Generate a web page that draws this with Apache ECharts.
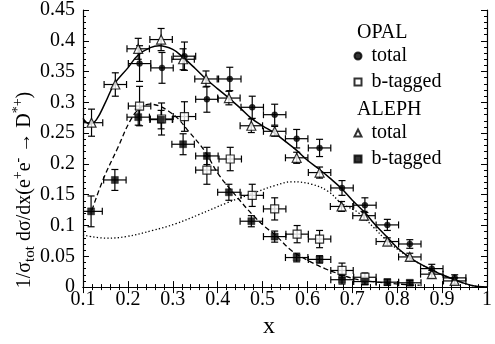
<!DOCTYPE html>
<html><head><meta charset="utf-8">
<script src="https://cdn.jsdelivr.net/npm/echarts@6/dist/echarts.min.js"></script>
<style>html,body{margin:0;padding:0;background:#fff}#c{width:495px;height:344px}</style>
</head><body><div id="c"></div>
<script>
// Tick labels
const xTickLabels = ['0.1','0.2','0.3','0.4','0.5','0.6','0.7','0.8','0.9','1'];
const yTickLabels = ['0','0.05','0.1','0.15','0.2','0.25','0.3','0.35','0.4','0.45'];
// Horizontal (bin) half-width of every point
const XERR = 0.025;

// OPAL total (filled circles)
const opalTotX = [0.226,0.276,0.326,0.376,0.427,0.477,0.527,0.576,0.627,0.677,0.728,0.778,0.828,0.877,0.928];
const opalTotY = [0.363,0.356,0.375,0.305,0.338,0.292,0.280,0.241,0.226,0.161,0.133,0.101,0.070,0.030,0.015];
const opalTotE = [0.029,0.025,0.023,0.021,0.019,0.018,0.017,0.015,0.014,0.012,0.012,0.009,0.007,0.007,0.005];

// OPAL b-tagged (open squares)
const opalBX = [0.226,0.275,0.326,0.376,0.428,0.477,0.527,0.577,0.627,0.677,0.728];
const opalBY = [0.294,0.273,0.277,0.190,0.208,0.149,0.127,0.086,0.078,0.027,0.016];
const opalBE = [0.032,0.026,0.024,0.023,0.019,0.018,0.018,0.014,0.014,0.012,0.007];

// ALEPH total (open triangles)
const alephTotX = [0.119,0.172,0.223,0.274,0.323,0.374,0.425,0.475,0.527,0.576,0.627,0.676,0.726,0.778,0.828,0.877,0.928];
const alephTotY = [0.267,0.329,0.387,0.402,0.370,0.338,0.307,0.262,0.253,0.210,0.186,0.131,0.116,0.074,0.049,0.021,0.010];
const alephTotE = [0.022,0.019,0.017,0.018,0.017,0.013,0.011,0.011,0.008,0.009,0.009,0.008,0.007,0.006,0.006,0.006,0.005];

// ALEPH b-tagged (filled squares)
const alephBX = [0.118,0.171,0.223,0.274,0.323,0.376,0.425,0.475,0.527,0.576,0.627,0.677,0.728,0.778,0.828];
const alephBY = [0.123,0.174,0.276,0.272,0.232,0.213,0.154,0.107,0.082,0.048,0.045,0.012,0.009,0.008,0.007];
const alephBE = [0.025,0.017,0.013,0.015,0.017,0.014,0.013,0.009,0.009,0.007,0.006,0.007,0.005,0.005,0.004];

// Curves
const solidX = [0.1,0.115,0.13,0.15,0.17,0.2,0.223,0.25,0.27,0.3,0.323,0.35,0.374,0.4,0.425,0.45,0.475,0.5,0.527,0.55,0.576,0.6,0.627,0.65,0.676,0.7,0.728,0.75,0.779,0.8,0.828,0.85,0.877,0.9,0.928,0.95,0.964,0.98,1.0];
const solidY = [0.274,0.265,0.272,0.300,0.330,0.356,0.377,0.389,0.392,0.386,0.373,0.355,0.338,0.322,0.307,0.291,0.274,0.262,0.250,0.237,0.222,0.206,0.191,0.177,0.160,0.141,0.121,0.102,0.080,0.064,0.048,0.038,0.028,0.020,0.012,0.006,0.003,0.001,0.0];

const dashX = [0.12,0.145,0.178,0.205,0.226,0.248,0.27,0.29,0.311,0.333,0.37,0.403,0.44,0.477,0.506,0.528,0.565,0.602,0.639,0.676,0.713,0.75,0.787,0.82,0.85];
const dashY = [0.125,0.175,0.227,0.270,0.290,0.297,0.294,0.286,0.274,0.255,0.222,0.182,0.149,0.118,0.0975,0.085,0.059,0.043,0.030,0.020,0.012,0.0085,0.006,0.004,0.003];

const dotX = [0.1,0.152,0.196,0.255,0.307,0.359,0.418,0.477,0.528,0.565,0.61,0.647,0.676,0.713,0.75,0.779,0.816,0.85,0.877,0.9,0.928,0.95,0.964,0.98,1.0];
const dotY = [0.0846,0.0795,0.082,0.092,0.103,0.118,0.136,0.152,0.165,0.171,0.167,0.155,0.136,0.121,0.095,0.074,0.0536,0.038,0.028,0.020,0.012,0.006,0.003,0.001,0.0];

const FONT = '"Liberation Serif", "Times New Roman", Times, serif';
const zip = (a, b) => a.map((v, i) => [v, b[i]]);
const labelFor = (arr) => (v) => {
  let best = arr[0], d = Infinity;
  arr.forEach(s => { const dd = Math.abs(parseFloat(s) - v); if (dd < d) { d = dd; best = s; } });
  return best;
};

function errSeries(xs, ys, es) {
  return {
    type: 'custom', z: 2, silent: true, clip: true,
    data: xs.map((x, i) => [x, ys[i], es[i]]),
    encode: { x: 0, y: 1 },
    renderItem: (params, api) => {
      const x = api.value(0), y = api.value(1), e = api.value(2);
      const t = api.coord([x, y + e]), b = api.coord([x, y - e]);
      const l = api.coord([x - XERR, y]), r = api.coord([x + XERR, y]);
      const c = 3.5;
      const st = { stroke: '#000', lineWidth: 1.2, fill: null };
      const ln = (x1, y1, x2, y2) => ({ type: 'line', shape: { x1, y1, x2, y2 }, style: st });
      return { type: 'group', children: [
        ln(t[0], t[1], b[0], b[1]),
        ln(t[0] - c, t[1], t[0] + c, t[1]),
        ln(b[0] - c, b[1], b[0] + c, b[1]),
        ln(l[0], l[1], r[0], r[1]),
        ln(l[0], l[1] - c, l[0], l[1] + c),
        ln(r[0], r[1] - c, r[0], r[1] + c)
      ]};
    }
  };
}

function markSeries(name, xs, ys, symbol, size, filled) {
  return {
    type: 'scatter', name, z: 4, symbol, symbolSize: size,
    data: zip(xs, ys),
    itemStyle: filled ? { color: '#000', borderColor: '#000', borderWidth: 0.5 }
                      : { color: '#fff', borderColor: '#000', borderWidth: 1.2 }
  };
}

function lineSeries(xs, ys, type, width) {
  return {
    type: 'line', z: 1, silent: true, symbol: 'none', smooth: 0.4,
    data: zip(xs, ys),
    lineStyle: { color: '#000', width, type }
  };
}

const axisCommon = {
  axisLine: { show: true, lineStyle: { color: '#000', width: 1.2 } },
  axisTick: { show: true, inside: true, length: 6, lineStyle: { color: '#000', width: 1 } },
  minorTick: { show: true, splitNumber: 5, length: 3, lineStyle: { color: '#000', width: 1 } },
  splitLine: { show: false }
};

const chart = echarts.init(document.getElementById('c'), null, { renderer: 'canvas' });
chart.setOption({
  backgroundColor: '#fff',
  animation: false,
  textStyle: { fontFamily: FONT },
  grid: { left: 83, right: 5, top: 10, bottom: 44, containLabel: false },
  xAxis: [
    Object.assign({
      type: 'value', min: 0.1, max: 1, interval: 0.1, position: 'bottom',
      name: 'x', nameLocation: 'middle', nameGap: 21,
      nameTextStyle: { fontFamily: FONT, fontSize: 24, color: '#000', padding: [0, 32, 0, 0] },
      axisLabel: { fontFamily: FONT, fontSize: 20, color: '#000', margin: 3, formatter: labelFor(xTickLabels) }
    }, axisCommon),
    Object.assign({
      type: 'value', min: 0.1, max: 1, interval: 0.1, position: 'top',
      axisLabel: { show: false }
    }, axisCommon)
  ],
  yAxis: [
    Object.assign({
      type: 'value', min: 0, max: 0.45, interval: 0.05, position: 'left',
      axisLabel: { fontFamily: FONT, fontSize: 20, color: '#000', margin: 8, formatter: labelFor(yTickLabels) }
    }, axisCommon),
    Object.assign({
      type: 'value', min: 0, max: 0.45, interval: 0.05, position: 'right',
      axisLabel: { show: false }
    }, axisCommon)
  ],
  legend: [
    {
      data: ['OPAL total', 'OPAL b-tagged'], orient: 'vertical', left: 353.5, top: 46,
      padding: 0, itemGap: 6, itemWidth: 7, itemHeight: 7, selectedMode: false,
      formatter: n => n.endsWith('total') ? 'total' : 'b-tagged',
      textStyle: { fontFamily: FONT, fontSize: 20, color: '#000', padding: [0, 0, 0, 5] }
    },
    {
      data: ['ALEPH total', 'ALEPH b-tagged'], orient: 'vertical', left: 353.5, top: 123,
      padding: 0, itemGap: 6, itemWidth: 7, itemHeight: 7, selectedMode: false,
      formatter: n => n.endsWith('total') ? 'total' : 'b-tagged',
      textStyle: { fontFamily: FONT, fontSize: 20, color: '#000', padding: [0, 0, 0, 5] }
    }
  ],
  graphic: [
    { type: 'text', left: 357, top: 23, style: { text: 'OPAL', fontFamily: FONT, fontSize: 20, fill: '#000' } },
    { type: 'text', left: 357, top: 100, style: { text: 'ALEPH', fontFamily: FONT, fontSize: 20, fill: '#000' } },
    {
      type: 'text', x: 25, y: 190, rotation: Math.PI / 2,
      style: {
        text: '{m|1/σ}{sub|tot}{m| dσ/dx(e}{sup|+}{m|e}{sup|-}{m| → D}{sup|*+}{m|)}',
        align: 'center', verticalAlign: 'middle', fill: '#000', fontFamily: FONT,
        rich: {
          m: { fontFamily: FONT, fontSize: 20, fill: '#000' },
          sub: { fontFamily: FONT, fontSize: 15, fill: '#000', padding: [10, 0, 0, 0] },
          sup: { fontFamily: FONT, fontSize: 14, fill: '#000', padding: [0, 0, 14, 0] }
        }
      }
    }
  ],
  series: [
    lineSeries(dotX, dotY, [1.3, 2.2], 1.3),
    lineSeries(dashX, dashY, [5, 3], 1.3),
    lineSeries(solidX, solidY, 'solid', 1.5),
    errSeries(opalTotX, opalTotY, opalTotE),
    errSeries(opalBX, opalBY, opalBE),
    errSeries(alephTotX, alephTotY, alephTotE),
    errSeries(alephBX, alephBY, alephBE),
    markSeries('OPAL b-tagged', opalBX, opalBY, 'rect', 8, false),
    markSeries('ALEPH b-tagged', alephBX, alephBY, 'rect', 7, true),
    markSeries('ALEPH total', alephTotX, alephTotY, 'triangle', 9, false),
    markSeries('OPAL total', opalTotX, opalTotY, 'circle', 6, true)
  ]
});
</script>
</body></html>
